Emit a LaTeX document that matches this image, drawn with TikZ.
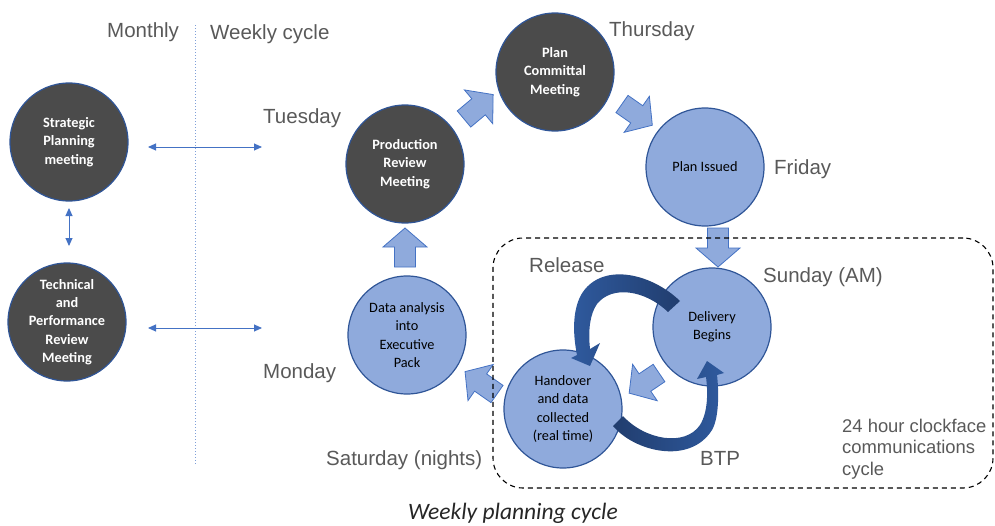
\documentclass[tikz,border=0pt]{standalone}
\usepackage{fontspec}
\setmainfont{Liberation Sans}
\newfontfamily\carl{Carlito}
\usetikzlibrary{arrows.meta,calc}
\definecolor{lblgray}{HTML}{595959}
\definecolor{darkfill}{HTML}{4B4B4B}
\definecolor{cedge}{HTML}{2F5597}
\definecolor{lightfill}{HTML}{8FAADC}
\definecolor{arredge}{HTML}{4472C4}
\definecolor{curvdark}{HTML}{213D6E}
\definecolor{curvlight}{HTML}{2F5A9E}
\definecolor{dotblue}{HTML}{7F9FD8}
\definecolor{capgray}{HTML}{262626}
\tikzset{
  darkc/.style={circle, draw=cedge, line width=1.2pt, fill=darkfill, minimum size=118pt,
    inner sep=0pt, align=center, text=white, font=\carl\bfseries\fontsize{14.3}{18.3}\selectfont},
  lightc/.style={circle, draw=cedge, line width=1.2pt, fill=lightfill, minimum size=118pt,
    inner sep=0pt, align=center, text=black, font=\carl\fontsize{14.3}{18.3}\selectfont},
  daylbl/.style={text=lblgray, font=\fontsize{20.5}{24}\selectfont, anchor=base west, inner sep=0pt},
  smalllbl/.style={text=lblgray, font=\fontsize{18.4}{22}\selectfont, anchor=base west, inner sep=0pt},
  blk/.style={fill=lightfill, draw=arredge, line width=0.8pt, line join=miter},
  dbl/.style={arredge, line width=0.9pt, {Triangle[length=8pt,width=7pt]}-{Triangle[length=8pt,width=7pt]}},
}
\newcommand\blkarrow[3]{%
  \begin{scope}[shift={#1},rotate=#2]
    \draw[blk] (0,-10.5) -- ({#3-19},-10.5) -- ({#3-19},-22) -- (#3,0) -- ({#3-19},22) -- ({#3-19},10.5) -- (0,10.5) -- cycle;
  \end{scope}}
\begin{document}
\begin{tikzpicture}[x=1pt,y=-1pt]
\useasboundingbox (0,0) rectangle (995,525);

% dotted divider
\coordinate (dtop) at (195,25);
\coordinate (dbot) at (195,465);
\draw[dotblue, dotted, line width=1pt] (dtop) -- (dbot);

% header labels
\node[daylbl] (monthly) at (107,37) {Monthly};
\node[daylbl] (weekly) at (210,39) {Weekly cycle};

% left circles
\node[darkc] (strat) at (69,142) {Strategic\\Planning\\meeting};
\node[darkc] (tech) at (67,322) {Technical\\and\\Performance\\Review\\Meeting};

% double arrows
\coordinate (h1a) at (148,147); \coordinate (h1b) at (262,147);
\coordinate (h2a) at (148,328); \coordinate (h2b) at (262,328);
\coordinate (v1a) at (69,208);  \coordinate (v1b) at (69,246);
\draw[dbl] (h1a) -- (h1b);
\draw[dbl] (h2a) -- (h2b);
\draw[dbl] (v1a) -- (v1b);

% day labels
\node[daylbl] (tue) at (263,123) {Tuesday};
\node[daylbl] (mon) at (263,378) {Monday};
\node[daylbl] (thu) at (609,36) {Thursday};
\node[daylbl] (fri) at (774,174) {Friday};
\node[daylbl] (sat) at (326,465) {Saturday (nights)};
\node[daylbl] (rel) at (529,272) {Release};
\node[daylbl] (sun) at (763,282) {Sunday (AM)};
\node[daylbl] (btp) at (700,465) {BTP};
\node[smalllbl] (c1) at (842,432) {24 hour clockface};
\node[smalllbl] (c2) at (842,453.5) {communications};
\node[smalllbl] (c3) at (842,475) {cycle};

% main cycle circles
\node[darkc] (prod) at (405,164) {Production\\Review\\Meeting};
\node[darkc] (commit) at (555,72) {Plan\\Committal\\Meeting};
\node[lightc] (issued) at (705,167) {Plan Issued};
\node[lightc] (data) at (407,335) {Data analysis\\into\\Executive\\Pack};
\node[lightc] (deliv) at (712,327) {Delivery\\Begins};
\node[lightc] (hand) at (563,409) {Handover\\and data\\collected\\(real time)};

% block arrows
\blkarrow{(405,267)}{90}{39}
\blkarrow{(464,119)}{40}{38}
\blkarrow{(622,104)}{-35}{37}
\blkarrow{(718,228)}{-90}{39}
\blkarrow{(659,373)}{-146}{36}
\blkarrow{(497,394)}{145}{39}

% curved arrows
\shade[left color=curvlight, right color=curvdark]
 (680,301) .. controls (650,272) and (600,262) .. (581,295)
 .. controls (572,312) and (573,335) .. (577,355)
 -- (571,358) -- (590,366) -- (600,343) -- (590,349)
 .. controls (588,330) and (590,314) .. (597,304)
 .. controls (612,285) and (645,290) .. (668,312) -- cycle;
\shade[left color=curvdark, right color=curvlight]
 (613,426) .. controls (635,452) and (690,465) .. (712,430)
 .. controls (719,418) and (719,392) .. (717,375)
 -- (724,373) -- (707,361) -- (697,379) -- (706,377)
 .. controls (708,392) and (708,412) .. (700,425)
 .. controls (685,447) and (645,440) .. (623,416) -- cycle;

% dashed 24h box
\node[draw=black, dash pattern=on 5pt off 4pt, line width=1.1pt, rounded corners=30pt,
  minimum width=500pt, minimum height=250pt, inner sep=0pt] (box) at (743,363) {};

% caption
\node[font=\carl\itshape\fontsize{23.5}{28}\selectfont, text=capgray, anchor=base, inner sep=0pt] (cap) at (513,519) {Weekly planning cycle};
\end{tikzpicture}
\end{document}
